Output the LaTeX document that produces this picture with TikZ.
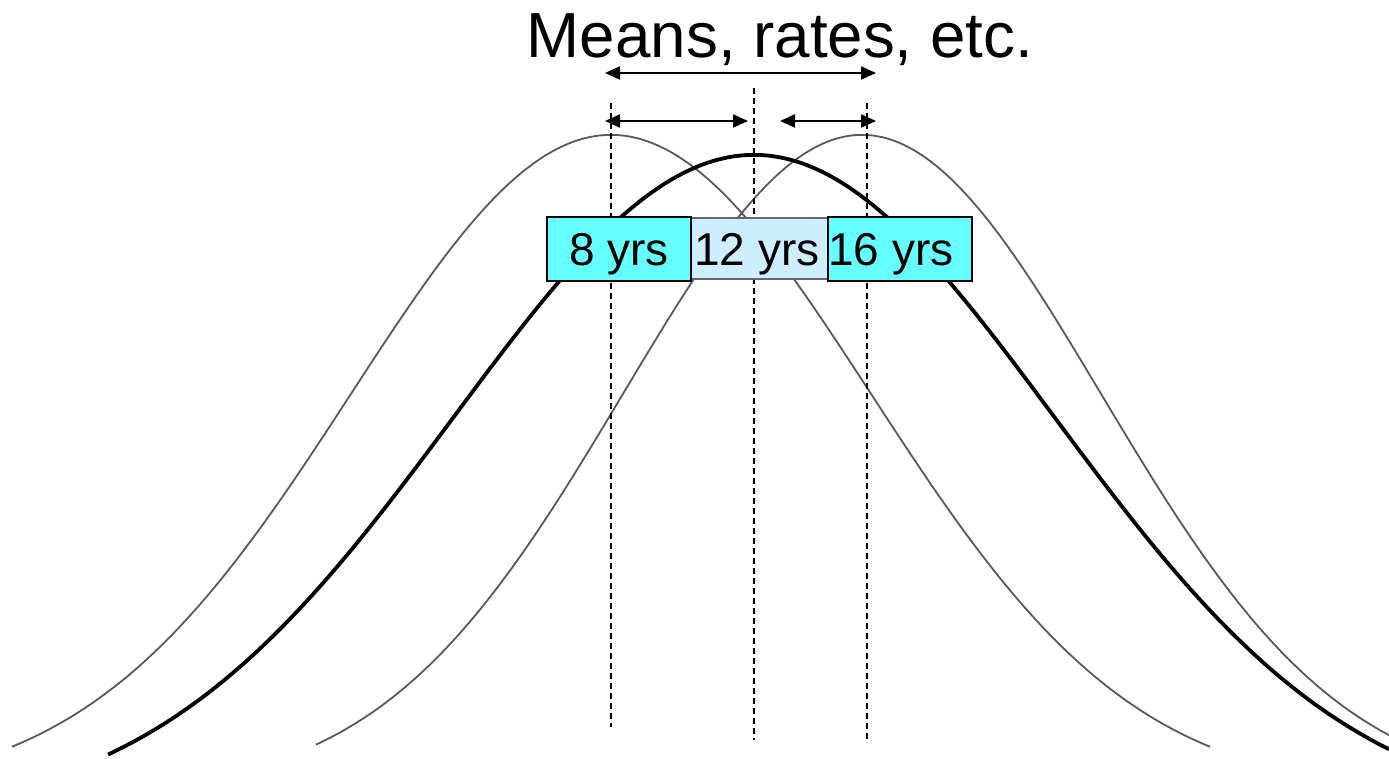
\documentclass[tikz,border=0pt]{standalone}
\usepackage{fontspec}
\setmainfont{Liberation Sans}
\usetikzlibrary{arrows.meta}
\begin{document}
\begin{tikzpicture}[x=1pt,y=-1pt,
  greycurve/.style={draw=black!65,line width=1.8pt},
  blackcurve/.style={draw=black,line width=3.8pt},
  guide/.style={draw=black,line width=1.5pt,dash pattern=on 6pt off 4pt},
  dblarrow/.style={draw=black,line width=2pt,{Triangle[length=15pt,width=13pt]}-{Triangle[length=15pt,width=13pt]}},
  cyanbox/.style={draw=black,line width=2pt,fill={rgb,255:red,102;green,255;blue,255},inner sep=0pt},
  paleblue/.style={draw=black!60,line width=1.2pt,fill={rgb,255:red,204;green,238;blue,255},inner sep=0pt},
  boxtext/.style={font=\fontsize{46}{55}\selectfont,anchor=base,inner sep=0pt},
  titletext/.style={font=\fontsize{63.7}{76}\selectfont,anchor=base,inner sep=0pt}]
\useasboundingbox (0,0) rectangle (1389,759);
% curves
\draw[greycurve] plot[domain=12:1210,samples=240,smooth] (\x,{793-658*exp(-0.5*((\x-611)/260)^2)});
\draw[greycurve] plot[domain=316:1389,samples=240,smooth] (\x,{793-658*exp(-0.5*((\x-862)/239)^2)});
\draw[blackcurve] plot[domain=108:1389,samples=260,smooth] (\x,{820-665*exp(-0.5*((\x-754)/300)^2)});
% dashed guides
\coordinate (l1) at (611,103); \coordinate (l2) at (611,727);
\coordinate (m1) at (754,88);  \coordinate (m2) at (754,740);
\coordinate (r1) at (867,103); \coordinate (r2) at (867,740);
\draw[guide] (l1) -- (l2);
\draw[guide] (m1) -- (m2);
\draw[guide] (r1) -- (r2);
% arrows
\coordinate (a1) at (605,73);  \coordinate (a2) at (876,73);
\coordinate (b1) at (605,121); \coordinate (b2) at (748,121);
\coordinate (c1) at (780,121); \coordinate (c2) at (876,121);
\draw[dblarrow] (a1) -- (a2);
\draw[dblarrow] (b1) -- (b2);
\draw[dblarrow] (c1) -- (c2);
% title
\node[titletext] (title) at (780,58) {Means, rates, etc.};
% boxes
\node[paleblue,minimum width=137pt,minimum height=61pt] (box12) at (759.5,248.5) {};
\node[cyanbox,minimum width=144pt,minimum height=64pt] (box8) at (619,249) {};
\node[cyanbox,minimum width=144pt,minimum height=64pt] (box16) at (900,249) {};
\node[boxtext] (t8) at (619,266) {8 yrs};
\node[boxtext] (t12) at (757,266) {12 yrs};
\node[boxtext] (t16) at (891,266) {16 yrs};
\end{tikzpicture}
\end{document}
